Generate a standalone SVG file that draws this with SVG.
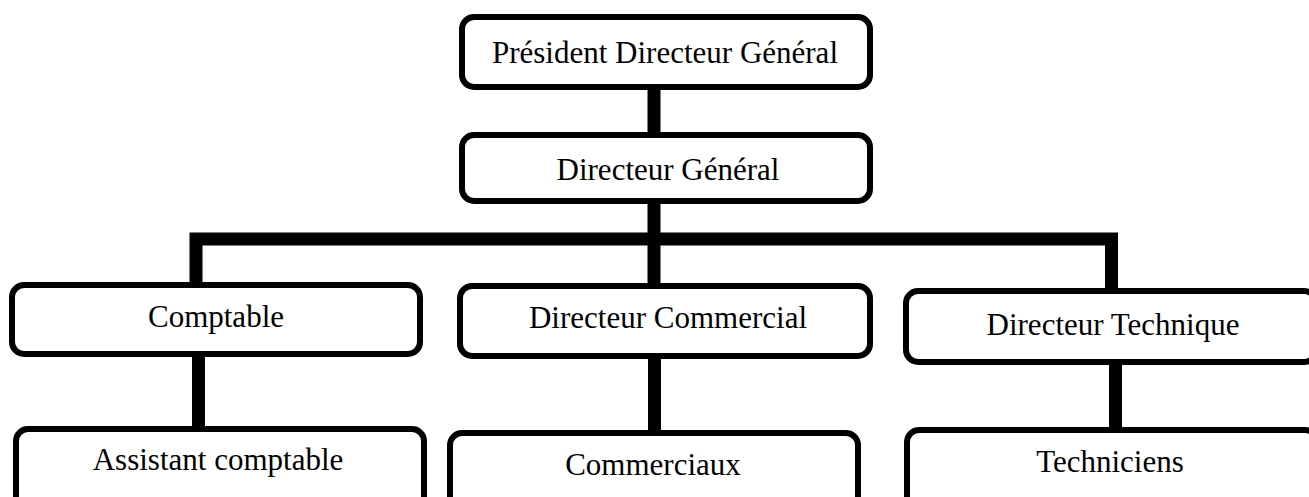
<svg xmlns="http://www.w3.org/2000/svg" width="1309" height="497" viewBox="0 0 1309 497">
<style>
.box{fill:#fff;stroke:#000;stroke-width:6}
.lbl{font-family:"Liberation Serif","Times New Roman",serif;font-size:31px;fill:#000;text-anchor:middle}
.con{stroke:#000;stroke-width:13;fill:none}
</style>
<rect width="1309" height="497" fill="#fff"/>
<g id="connectors">
<line class="con" x1="654" y1="87" x2="654" y2="135"/>
<line class="con" x1="654" y1="201" x2="654" y2="283"/>
<path class="con" d="M196 285 V239 H1111.5 V290"/>
<line class="con" x1="198.5" y1="357" x2="198.5" y2="428"/>
<line class="con" x1="654.5" y1="359" x2="654.5" y2="432"/>
<line class="con" x1="1115.5" y1="365" x2="1115.5" y2="429"/>
</g>
<g id="pdg"><rect class="box" x="462" y="17" width="408" height="70" rx="12"/><text class="lbl" x="665" y="63">Président Directeur Général</text></g>
<g id="dg"><rect class="box" x="462" y="135" width="408" height="66" rx="12"/><text class="lbl" x="668" y="180">Directeur Général</text></g>
<g id="comptable"><rect class="box" x="12" y="285" width="408" height="69" rx="12"/><text class="lbl" x="216" y="327">Comptable</text></g>
<g id="dcom"><rect class="box" x="460" y="286" width="410" height="70" rx="12"/><text class="lbl" x="668" y="328">Directeur Commercial</text></g>
<g id="dtech"><rect class="box" x="906" y="291" width="410" height="71" rx="12"/><text class="lbl" x="1113" y="335">Directeur Technique</text></g>
<g id="assistant"><rect class="box" x="16" y="429" width="408" height="90" rx="12"/><text class="lbl" x="218" y="470">Assistant comptable</text></g>
<g id="commerciaux"><rect class="box" x="450" y="433" width="408" height="90" rx="12"/><text class="lbl" x="653" y="475">Commerciaux</text></g>
<g id="techniciens"><rect class="box" x="907" y="430" width="410" height="90" rx="12"/><text class="lbl" x="1110" y="472">Techniciens</text></g>
</svg>
